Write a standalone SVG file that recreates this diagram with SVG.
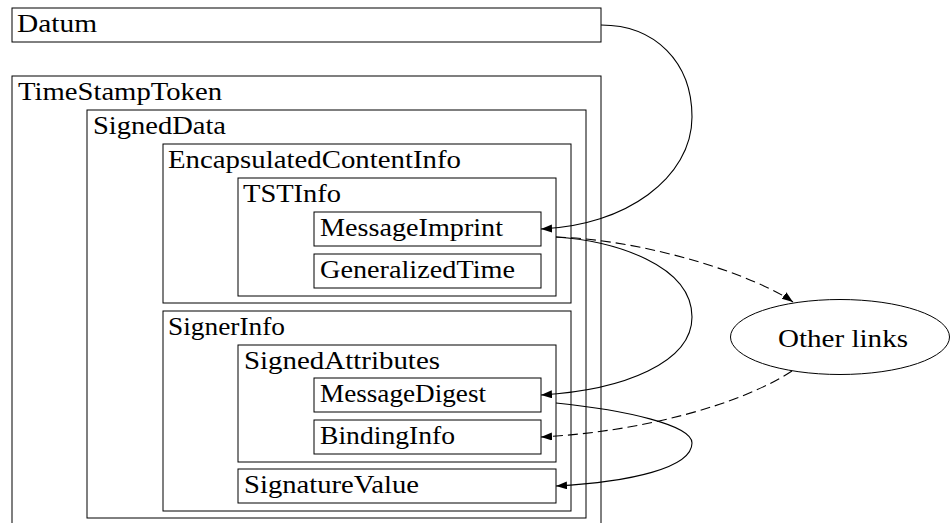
<svg xmlns="http://www.w3.org/2000/svg" width="950" height="523" viewBox="0 0 950 523">
<style>
  .box { fill: none; stroke: #000; stroke-width: 1; }
  .lbl { font-family: "Times New Roman", "Liberation Serif", Times, serif; font-size: 26px; fill: #000; }
  .edge { fill: none; stroke: #000; stroke-width: 1.1; }
  .dash { stroke-dasharray: 10 5; }
</style>
<defs>
  <marker id="arrow" markerUnits="userSpaceOnUse" markerWidth="12" markerHeight="9" refX="11" refY="4" orient="auto">
    <path d="M0,0 L11,4 L0,8 Z" fill="#000" stroke="none"/>
  </marker>
</defs>
<g id="Datum">
  <rect class="box" x="12" y="8" width="589" height="34"/>
  <text class="lbl" x="17" y="32" textLength="80" lengthAdjust="spacingAndGlyphs">Datum</text>
</g>
<g id="TimeStampToken">
  <rect class="box" x="12" y="76" width="589" height="460"/>
  <text class="lbl" x="18" y="100" textLength="204" lengthAdjust="spacingAndGlyphs">TimeStampToken</text>
</g>
<g id="SignedData">
  <rect class="box" x="87" y="110" width="499" height="408"/>
  <text class="lbl" x="93" y="134" textLength="133" lengthAdjust="spacingAndGlyphs">SignedData</text>
</g>
<g id="EncapsulatedContentInfo">
  <rect class="box" x="163" y="144" width="408" height="159"/>
  <text class="lbl" x="168" y="168" textLength="293" lengthAdjust="spacingAndGlyphs">EncapsulatedContentInfo</text>
</g>
<g id="TSTInfo">
  <rect class="box" x="238" y="178" width="318" height="118"/>
  <text class="lbl" x="243" y="202" textLength="98" lengthAdjust="spacingAndGlyphs">TSTInfo</text>
</g>
<g id="MessageImprint">
  <rect class="box" x="314" y="212" width="227" height="34"/>
  <text class="lbl" x="320" y="236" textLength="183" lengthAdjust="spacingAndGlyphs">MessageImprint</text>
</g>
<g id="GeneralizedTime">
  <rect class="box" x="314" y="254" width="227" height="34"/>
  <text class="lbl" x="320" y="278" textLength="195" lengthAdjust="spacingAndGlyphs">GeneralizedTime</text>
</g>
<g id="SignerInfo">
  <rect class="box" x="163" y="311" width="408" height="200"/>
  <text class="lbl" x="168" y="335" textLength="117" lengthAdjust="spacingAndGlyphs">SignerInfo</text>
</g>
<g id="SignedAttributes">
  <rect class="box" x="238" y="345" width="318" height="117"/>
  <text class="lbl" x="244" y="369" textLength="196" lengthAdjust="spacingAndGlyphs">SignedAttributes</text>
</g>
<g id="MessageDigest">
  <rect class="box" x="314" y="378" width="227" height="34"/>
  <text class="lbl" x="320" y="402" textLength="166" lengthAdjust="spacingAndGlyphs">MessageDigest</text>
</g>
<g id="BindingInfo">
  <rect class="box" x="314" y="420" width="227" height="34"/>
  <text class="lbl" x="320" y="444" textLength="135" lengthAdjust="spacingAndGlyphs">BindingInfo</text>
</g>
<g id="SignatureValue">
  <rect class="box" x="238" y="469" width="318" height="34"/>
  <text class="lbl" x="244" y="493" textLength="175" lengthAdjust="spacingAndGlyphs">SignatureValue</text>
</g>
<g id="OtherLinks">
  <ellipse class="box" cx="840" cy="337" rx="109.5" ry="37.5"/>
  <text class="lbl" x="778" y="347" textLength="130" lengthAdjust="spacingAndGlyphs">Other links</text>
</g>
<g id="connectors">
  <path class="edge" d="M601,25 C655,25 692,62 692,117 C692,178 625,226 541,229" marker-end="url(#arrow)"/>
  <path class="edge" d="M556,237 C615,241 692,265 692,317 C692,362 625,390 541,395" marker-end="url(#arrow)"/>
  <path class="edge dash" d="M556,237 C650,240 758,277 793,302" marker-end="url(#arrow)"/>
  <path class="edge dash" d="M792,371 C740,405 640,432 541,437" marker-end="url(#arrow)"/>
  <path class="edge" d="M556,403 C625,410 692,425 692,443 C692,468 630,482 556,486" marker-end="url(#arrow)"/>
</g>
</svg>
